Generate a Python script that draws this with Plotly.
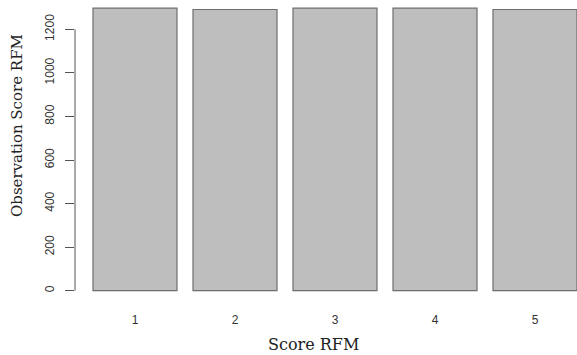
import plotly.graph_objects as go

# Number of observations in each RFM score group
scores = ["1", "2", "3", "4", "5"]
counts = [1297, 1291, 1297, 1297, 1291]
y_ticks = [0, 200, 400, 600, 800, 1000, 1200]

serif = "DejaVu Serif, serif"
sans = "Liberation Sans, Arial, sans-serif"

fig = go.Figure(
    go.Bar(
        x=scores,
        y=counts,
        marker=dict(color="#BEBEBE", line=dict(color="#6E6E6E", width=1.2)),
        width=0.84,
        hoverinfo="x+y",
    )
)

fig.update_layout(
    width=577,
    height=355,
    margin=dict(l=75, r=0, t=0, b=53),
    paper_bgcolor="white",
    plot_bgcolor="white",
    showlegend=False,
    xaxis=dict(
        type="category",
        range=[-0.6, 4.42],
        showgrid=False,
        zeroline=False,
        showline=False,
        ticks="outside",
        ticklen=7,
        tickcolor="rgba(0,0,0,0)",
        tickfont=dict(family=sans, size=12, color="#333333"),
    ),
    yaxis=dict(
        range=[-52, 1334.7],
        tickvals=y_ticks,
        ticktext=[str(v) for v in y_ticks],
        tickangle=-90,
        showgrid=False,
        zeroline=False,
        showline=False,
        ticks="outside",
        ticklen=9,
        tickwidth=1,
        tickcolor="#555555",
        ticklabelstandoff=6,
        tickfont=dict(family=sans, size=12, color="#333333"),
    ),
    annotations=[
        dict(
            text="Observation Score RFM",
            textangle=-90,
            xref="paper",
            yref="paper",
            x=(17 - 75) / 502,
            y=(302 - 126) / 302,
            xanchor="center",
            yanchor="middle",
            showarrow=False,
            font=dict(family=serif, size=15, color="#222222"),
        ),
        dict(
            text="Score RFM",
            xref="paper",
            yref="paper",
            x=(313 - 75) / 502,
            y=(302 - 344) / 302,
            xanchor="center",
            yanchor="middle",
            showarrow=False,
            font=dict(family=serif, size=16, color="#222222"),
        ),
    ],
)

# R-style axis line that only spans the tick range
fig.add_shape(
    type="line",
    xref="paper",
    yref="y",
    x0=0,
    x1=0,
    y0=y_ticks[0],
    y1=y_ticks[-1],
    line=dict(color="#555555", width=1),
)

fig.write_html("out.html")
